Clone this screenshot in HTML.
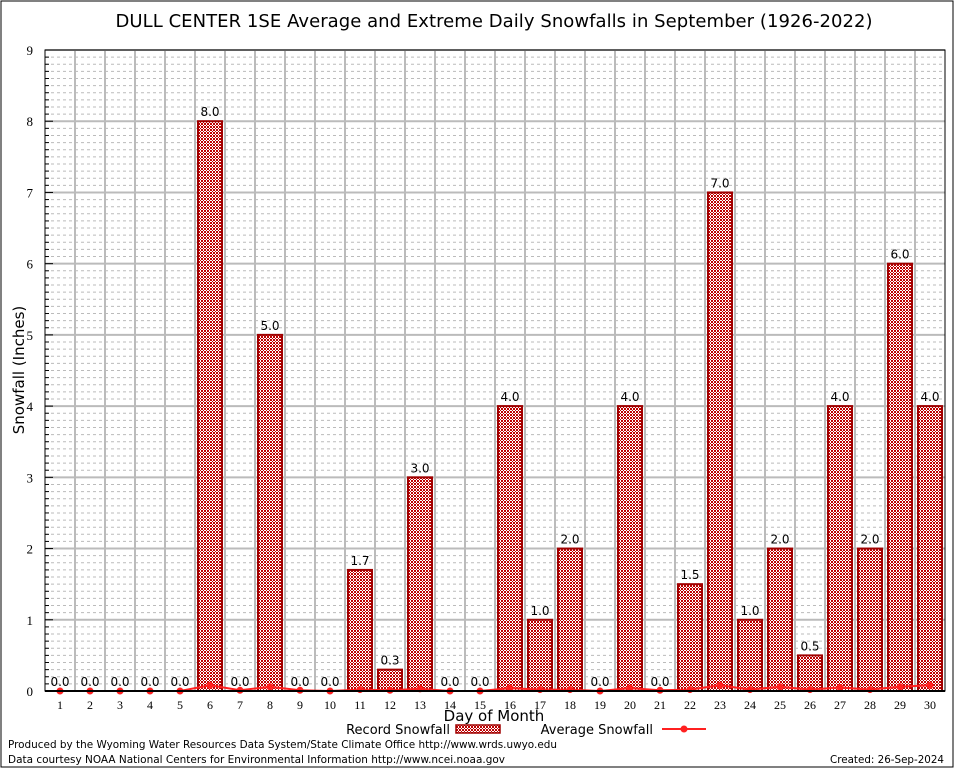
<!DOCTYPE html>
<html><head><meta charset="utf-8"><style>
body{margin:0;background:#fff;}
svg{display:block;font-family:"DejaVu Sans","Liberation Sans",sans-serif;}
</style></head><body>
<svg id="chart" width="954" height="768" viewBox="0 0 954 768">
<defs>
<pattern id="hatch" width="3" height="3" patternUnits="userSpaceOnUse">
<rect width="3" height="3" fill="#fff"/>
<rect width="2" height="2" fill="#c00000"/>
<rect x="2" y="2" width="1" height="1" fill="#c00000"/>
</pattern>
</defs>
<rect x="1" y="1" width="952" height="766" fill="#fff" stroke="#000" stroke-width="1"/>
<text x="494" y="27" font-size="18" text-anchor="middle" textLength="757">DULL CENTER 1SE Average and Extreme Daily Snowfalls in September (1926-2022)</text>
<g id="grid"></g>
<g id="bars"></g>
<g id="avg"></g>
<g id="axes"></g>
<text x="24" y="370" font-size="15" text-anchor="middle" transform="rotate(-90 24 370)">Snowfall (Inches)</text>
<text x="494" y="721" font-size="15" text-anchor="middle">Day of Month</text>
<g>
<text x="450" y="734" font-size="13" text-anchor="end">Record Snowfall</text>
<rect x="456" y="725" width="44" height="8" fill="url(#hatch)" stroke="#a00000" stroke-width="1.5"/>
<text x="653" y="734" font-size="13" text-anchor="end">Average Snowfall</text>
<line x1="662" y1="729" x2="706" y2="729" stroke="#ff2020" stroke-width="2"/>
<circle cx="684" cy="729" r="3.5" fill="#ff2020"/>
</g>
<text x="8" y="748" font-size="11" textLength="549" lengthAdjust="spacingAndGlyphs">Produced by the Wyoming Water Resources Data System/State Climate Office http://www.wrds.uwyo.edu</text>
<text x="8" y="763" font-size="11" textLength="497" lengthAdjust="spacingAndGlyphs">Data courtesy NOAA National Centers for Environmental Information http://www.ncei.noaa.gov</text>
<text x="944" y="763" font-size="11" text-anchor="end" textLength="114" lengthAdjust="spacingAndGlyphs">Created: 26-Sep-2024</text>
</svg>
<script>
const days=["1","2","3","4","5","6","7","8","9","10","11","12","13","14","15","16","17","18","19","20","21","22","23","24","25","26","27","28","29","30"];
const recordSnow=[0,0,0,0,0,8.0,0,5.0,0,0,1.7,0.3,3.0,0,0,4.0,1.0,2.0,0,4.0,0,1.5,7.0,1.0,2.0,0.5,4.0,2.0,6.0,4.0];
const recordLabels=["0.0","0.0","0.0","0.0","0.0","8.0","0.0","5.0","0.0","0.0","1.7","0.3","3.0","0.0","0.0","4.0","1.0","2.0","0.0","4.0","0.0","1.5","7.0","1.0","2.0","0.5","4.0","2.0","6.0","4.0"];
const avgSnow=[0,0,0,0,0,0.08,0.01,0.06,0.01,0,0.02,0.01,0.03,0,0,0.04,0.02,0.02,0,0.04,0.01,0.02,0.08,0.02,0.06,0.02,0.05,0.02,0.06,0.08];
const yTicks=[0,1,2,3,4,5,6,7,8,9];
const NS="http://www.w3.org/2000/svg";
const L=45,R=945,T=50,B=691,YMAX=9;
const step=(R-L)/days.length;
const x=i=>L+step*(i+0.5);
const y=v=>B-(B-T)*v/YMAX;
function mk(tag,attrs,parent,txt){const e=document.createElementNS(NS,tag);for(const k in attrs)e.setAttribute(k,attrs[k]);if(txt!==undefined)e.textContent=txt;document.getElementById(parent).appendChild(e);return e;}
for(let k=0;k<YMAX*10;k++){if(k%10===0)continue;const e=mk('line',{x1:L,x2:R,y1:y(k/10),y2:y(k/10),stroke:'#bbb','stroke-width':1,'stroke-dasharray':'3,3'},'grid');

}
yTicks.forEach(v=>{if(v===0)return;const e=mk('line',{x1:L,x2:R,y1:y(v),y2:y(v),stroke:'#bbb','stroke-width':2},'grid');

});
for(let i=1;i<days.length;i++){const e=mk('line',{x1:L+step*i,x2:L+step*i,y1:T,y2:B,stroke:'#bbb','stroke-width':2},'grid');

}
recordSnow.forEach((v,i)=>{if(v>0){const b=mk('rect',{x:x(i)-12,y:y(v),width:24,height:B-y(v),fill:'url(#hatch)',stroke:'#a00000','stroke-width':2},'bars');

}
const t=mk('text',{x:x(i),y:y(v)-5,'font-size':12,'text-anchor':'middle'},'bars',recordLabels[i]);

});
const pl=mk('polyline',{points:avgSnow.map((v,i)=>x(i)+','+y(v)).join(' '),fill:'none',stroke:'#ff2020','stroke-width':2},'avg');


avgSnow.forEach((v,i)=>{const c=mk('circle',{cx:x(i),cy:y(v),r:3.5,fill:'#ff2020'},'avg');

});
const ax=mk('rect',{x:L,y:T,width:R-L,height:B-T,fill:'none',stroke:'#000','stroke-width':1},'axes');


const bl=mk('line',{x1:L,x2:R,y1:B,y2:B,stroke:'#000','stroke-width':2},'axes');


yTicks.forEach(v=>{const t=mk('text',{x:L-12,y:y(v)+5,'font-size':13,'text-anchor':'end','font-family':'Liberation Serif, serif'},'axes',String(v));


const tk=mk('line',{x1:L,x2:L+8,y1:y(v),y2:y(v),stroke:'#000','stroke-width':1},'axes');

});
for(let k=0;k<YMAX*10;k++){if(k%10===0)continue;const tk=mk('line',{x1:L,x2:L+4,y1:y(k/10),y2:y(k/10),stroke:'#000','stroke-width':1},'axes');

}
days.forEach((d,i)=>{const t=mk('text',{x:x(i),y:B+18,'font-size':12,'text-anchor':'middle','font-family':'Liberation Serif, serif'},'axes',d);

});
</script>
</body></html>
